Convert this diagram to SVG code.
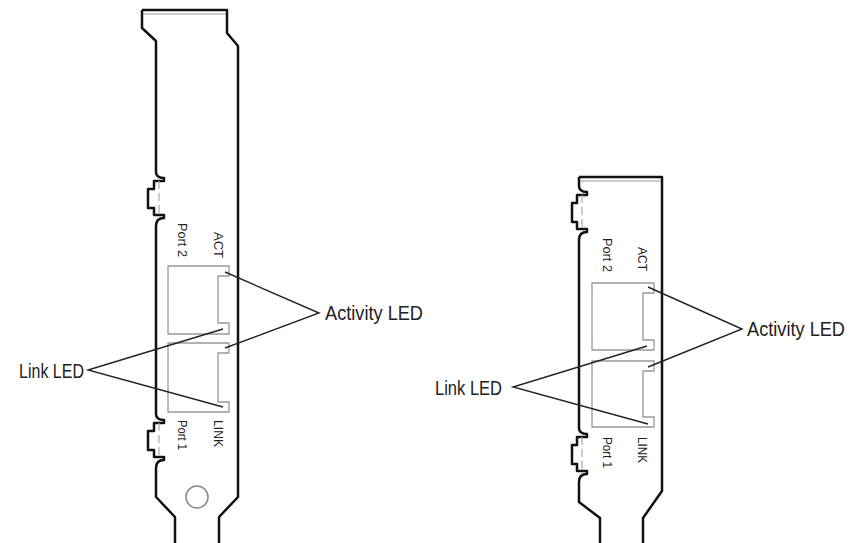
<svg xmlns="http://www.w3.org/2000/svg" width="854" height="543" viewBox="0 0 854 543">
<style>
.edge{fill:none;stroke:#111;stroke-width:2.5;stroke-linejoin:round}
.inner{fill:none;stroke:#999;stroke-width:1.2}
.dash{fill:none;stroke:#aaa;stroke-width:1.2;stroke-dasharray:8 4}
.port{fill:none;stroke:#999;stroke-width:1.3}
.lead{fill:none;stroke:#222;stroke-width:1.4}
.lbl{font-family:"Liberation Sans",Arial,sans-serif;font-size:21px;fill:#222}
.small{font-family:"Liberation Sans",Arial,sans-serif;font-size:13px;fill:#222}
</style>
<g id="bracket-left">
<path class="edge" d="M142 10 H227 V33 L238 46 V497 L219 517 V543"/>
<path class="edge" d="M142 10 V28 L156 41 V172 q0 6 8 6 v3 h-10 v8 h-6 v19 h6 v7 h10 v3 q-8 0 -8 8 V414 q0 6 8 6 v3 h-10 v8 h-6 v19 h6 v7 h10 v3 q-8 0 -8 8 V497 L175 517 V543"/>
<line class="inner" x1="143" y1="14" x2="226" y2="14"/>
<line class="dash" x1="159" y1="181" x2="159" y2="215"/>
<line class="dash" x1="159" y1="423" x2="159" y2="457"/>
<circle cx="197" cy="497" r="11" fill="none" stroke="#888" stroke-width="1.5"/>
</g>
<g id="ports-left">
<path class="port" d="M168 266 H229 V276 H218 V323 H229 V334 H168 Z"/>
<path class="port" d="M168 343 H229 V353 H218 V402 H229 V412 H168 Z"/>
<text class="small" transform="translate(178 223) rotate(90)" textLength="34" lengthAdjust="spacingAndGlyphs">Port 2</text>
<text class="small" transform="translate(214 232) rotate(90)" textLength="26" lengthAdjust="spacingAndGlyphs">ACT</text>
<text class="small" transform="translate(178 420) rotate(90)" textLength="30" lengthAdjust="spacingAndGlyphs">Port 1</text>
<text class="small" transform="translate(214 420) rotate(90)" textLength="27" lengthAdjust="spacingAndGlyphs">LINK</text>
</g>
<g id="bracket-right">
<path class="edge" d="M579 177 H662 V491 L643 518 V543"/>
<path class="edge" d="M579 177 V186 q0 6 8 6 v3 h-10 v8 h-5 v19 h5 v7 h10 v3 q-8 0 -8 8 V428 q0 6 8 6 v3 h-10 v8 h-5 v19 h5 v7 h10 v3 q-8 0 -8 8 V502 L600 518 V543"/>
<line class="inner" x1="580" y1="181" x2="661" y2="181"/>
<line class="dash" x1="582" y1="195" x2="582" y2="229"/>
<line class="dash" x1="582" y1="437" x2="582" y2="471"/>
</g>
<g id="ports-right">
<path class="port" d="M592 283 H654 V293 H643 V340 H654 V350 H592 Z"/>
<path class="port" d="M592 361 H654 V371 H643 V417 H654 V427 H592 Z"/>
<text class="small" transform="translate(603 238) rotate(90)" textLength="34" lengthAdjust="spacingAndGlyphs">Port 2</text>
<text class="small" transform="translate(638 247) rotate(90)" textLength="24" lengthAdjust="spacingAndGlyphs">ACT</text>
<text class="small" transform="translate(603 437) rotate(90)" textLength="31" lengthAdjust="spacingAndGlyphs">Port 1</text>
<text class="small" transform="translate(638 437) rotate(90)" textLength="26" lengthAdjust="spacingAndGlyphs">LINK</text>
</g>
<g id="connectors">
<polyline class="lead" points="225,272 319,313 225,348"/>
<polyline class="lead" points="223,329 88,370 223,407"/>
<polyline class="lead" points="647,346 513,387 648,424"/>
<polyline class="lead" points="648,287 742,329 648,367"/>
</g>
<g id="labels">
<text class="lbl" x="325" y="320" textLength="98" lengthAdjust="spacingAndGlyphs">Activity LED</text>
<text class="lbl" x="19" y="378" textLength="65" lengthAdjust="spacingAndGlyphs">Link LED</text>
<text class="lbl" x="435" y="395" textLength="67" lengthAdjust="spacingAndGlyphs">Link LED</text>
<text class="lbl" x="747" y="336" style="font-size:19.5px" textLength="98" lengthAdjust="spacingAndGlyphs">Activity LED</text>
</g>
</svg>
